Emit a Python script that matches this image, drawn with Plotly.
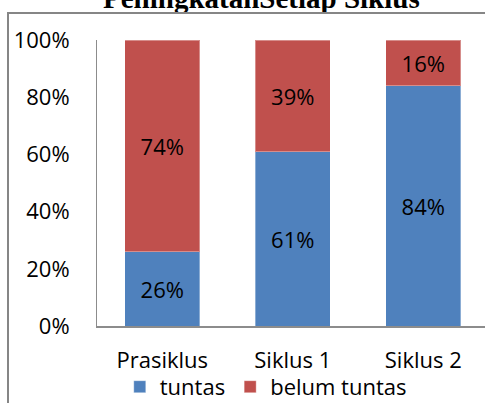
import plotly.graph_objects as go

categories = ["Prasiklus", "Siklus 1", "Siklus 2"]
tuntas = [26, 61, 84]
belum_tuntas = [74, 39, 16]
y_ticks = [0, 20, 40, 60, 80, 100]
y_tick_labels = ["0%", "20%", "40%", "60%", "80%", "100%"]
title_text = "PeningkatanSetiap Siklus"

font_fam = "Open Sans, Noto Sans, sans-serif"

fig = go.Figure()
fig.add_trace(go.Bar(
    x=categories, y=tuntas, name="tuntas",
    marker=dict(color="#4F81BD", line=dict(color="rgba(255,255,255,0.35)", width=1)),
    text=[f"{v}%" for v in tuntas], textposition="inside", insidetextanchor="middle",
    textfont=dict(color="black", size=22, family=font_fam),
    width=0.575,
))
fig.add_trace(go.Bar(
    x=categories, y=belum_tuntas, name="belum tuntas",
    marker=dict(color="#C0504D", line=dict(color="rgba(255,255,255,0.35)", width=1)),
    text=[f"{v}%" for v in belum_tuntas], textposition="inside", insidetextanchor="middle",
    textfont=dict(color="black", size=22, family=font_fam),
    width=0.575,
))

fig.update_layout(
    width=485, height=403,
    margin=dict(l=97, r=0, t=40, b=77, autoexpand=False),
    barmode="stack",
    plot_bgcolor="white", paper_bgcolor="white",
    font=dict(family=font_fam, size=22, color="black"),
    showlegend=True,
    legend=dict(orientation="h", x=0.435, xanchor="center", y=-0.213, yanchor="middle",
                traceorder="normal", font=dict(size=22), bgcolor="rgba(0,0,0,0)",
                itemwidth=30, tracegroupgap=0),
)
fig.update_xaxes(
    range=[-0.5, 2.473], showline=True, linecolor="#8c8c8c", linewidth=2,
    showgrid=False, ticks="", ticklabelstandoff=14, tickfont=dict(size=22),
)
fig.update_yaxes(
    range=[0, 100], tickvals=y_ticks, ticktext=y_tick_labels,
    showline=True, linecolor="#8c8c8c", linewidth=1, showgrid=False, zeroline=False,
    ticks="", ticklabelstandoff=22, tickfont=dict(size=22),
)
fig.add_annotation(
    text="<b>" + title_text + "</b>", xref="paper", yref="paper",
    x=(261 - 97) / 388, y=(326 + 2) / 286, xanchor="center", yanchor="middle",
    showarrow=False, font=dict(family="Liberation Serif, Times New Roman, serif", size=29, color="black"),
)
# outer chart frame (drawn as a bordered empty box)
fig.add_annotation(
    text="", xref="paper", yref="paper",
    x=(7 - 97) / 388, y=(326 - 12) / 286, xanchor="left", yanchor="top",
    width=600, height=500, showarrow=False, bgcolor="rgba(0,0,0,0)",
    bordercolor="#868686", borderwidth=2, borderpad=0,
)
post = (
    "document.body.style.margin='0';document.body.style.overflow='hidden';"
    "var f=document.createElement('div');"
    "f.style.cssText='position:absolute;left:7px;top:12px;width:600px;height:500px;"
    "border:2px solid #868686;pointer-events:none;z-index:1000;box-sizing:border-box;';"
    "document.body.appendChild(f);"
)
fig.write_html("out.html", config={"displayModeBar": False}, post_script=post)
